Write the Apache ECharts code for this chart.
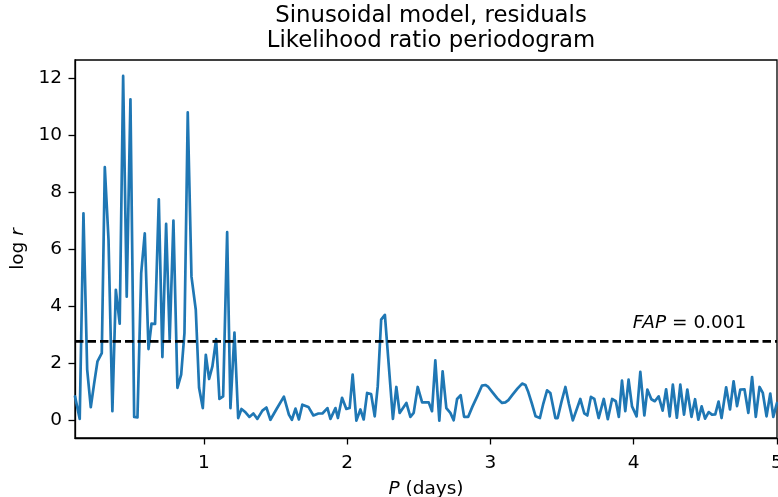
<!DOCTYPE html>
<html>
<head>
<meta charset="utf-8">
<script src="https://cdn.jsdelivr.net/npm/echarts@6/dist/echarts.min.js"></script>
<style>html,body{margin:0;padding:0;background:#fff}#c{width:778px;height:497px}</style>
</head>
<body>
<div id="c"></div>
<script>
const period = [
  0.100,0.133,0.159,0.185,0.210,0.233,0.257,0.287,0.308,0.334,0.361,0.385,0.412,0.436,0.461,
  0.487,0.513,0.536,0.562,0.587,0.613,0.634,0.659,0.685,0.710,0.736,0.761,0.787,0.815,0.841,
  0.864,0.887,0.913,0.943,0.966,0.992,
  1.013,1.036,1.059,1.085,1.108,1.134,1.162,1.185,1.213,1.239,1.262,1.290,1.317,1.345,1.373,
  1.408,1.436,1.464,1.506,1.558,1.593,1.614,1.639,1.663,1.687,1.729,1.764,1.799,1.827,1.862,
  1.883,1.918,1.935,1.964,1.994,2.017,2.038,2.064,2.092,2.115,2.139,2.167,2.192,2.213,2.237,
  2.263,2.319,2.343,2.366,2.413,2.441,2.464,2.492,2.523,2.569,2.592,2.615,2.643,2.666,2.692,
  2.720,2.743,2.767,2.792,2.816,2.844,
  2.874,2.909,2.941,2.964,2.985,3.013,3.048,3.081,3.104,3.125,3.153,3.188,3.221,3.244,3.264,
  3.289,3.315,3.345,3.369,3.395,3.418,3.453,3.469,3.495,3.523,3.547,3.575,3.627,3.655,3.676,
  3.701,3.725,3.755,3.791,3.819,3.849,3.875,3.896,3.918,3.941,3.964,3.988,4.020,4.046,4.074,
  4.095,4.123,4.147,4.174,4.202,4.226,4.251,4.273,4.301,4.325,4.351,4.374,4.403,4.428,4.451,
  4.474,4.498,4.523,4.546,4.569,4.592,4.613,4.645,4.672,4.697,4.721,4.744,4.773,4.800,4.826,
  4.852,4.878,4.901,4.927,4.953,4.974,5.000
];
const logR = [
  0.85,0.06,7.27,1.79,0.47,1.28,2.08,2.37,8.89,6.34,0.33,4.59,3.40,12.09,4.35,
  11.27,0.13,0.11,5.17,6.57,2.51,3.40,3.39,7.76,2.23,6.90,2.84,7.02,1.15,1.61,
  3.07,10.81,5.05,3.89,1.15,0.44,
  2.31,1.46,1.90,2.86,0.76,0.85,6.61,0.44,3.09,0.09,0.41,0.29,0.13,0.25,0.06,
  0.35,0.46,0.03,0.40,0.84,0.21,0.03,0.42,0.04,0.56,0.48,0.18,0.25,0.25,0.44,
  0.06,0.44,0.09,0.80,0.41,0.44,1.61,0.00,0.39,0.04,0.97,0.93,0.15,1.20,3.54,
  3.71,0.06,1.18,0.27,0.62,0.13,0.27,1.18,0.64,0.64,0.33,2.11,0.00,1.73,0.44,
  0.27,0.01,0.76,0.89,0.13,0.13,
  0.49,0.87,1.23,1.25,1.18,1.00,0.78,0.62,0.64,0.72,0.90,1.12,1.30,1.25,1.00,
  0.60,0.15,0.09,0.60,1.06,0.97,0.09,0.09,0.65,1.18,0.60,0.01,0.76,0.25,0.18,
  0.83,0.76,0.09,0.76,0.05,0.76,0.68,0.13,1.40,0.33,1.44,0.50,0.15,1.71,0.18,
  1.09,0.75,0.68,0.85,0.35,1.10,0.15,1.26,0.10,1.26,0.21,1.09,0.13,0.75,0.03,
  0.50,0.07,0.30,0.21,0.22,0.67,0.09,1.17,0.39,1.38,0.51,1.09,1.10,0.27,1.53,
  0.13,1.18,0.97,0.15,0.95,0.13,0.62
];
const xTicks = [1, 2, 3, 4, 5];
const yTicks = [0, 2, 4, 6, 8, 10, 12];
const fapLevel = 2.78;
const fapLabelPos = [4.786, 3.43];
const xRange = [0.1, 5.0];
const yRange = [-0.61, 12.65];

const FONT = 'DejaVu Sans';
const FS = 18.5;

const chart = echarts.init(document.getElementById('c'), null, {renderer: 'canvas'});
chart.setOption({
  animation: false,
  backgroundColor: '#fff',
  title: {
    text: 'Sinusoidal model, residuals\nLikelihood ratio periodogram',
    left: 426, top: -1, textAlign: 'center',
    textStyle: {fontFamily: FONT, fontSize: 22.8, fontWeight: 'normal', color: '#000', lineHeight: 25}
  },
  grid: {left: 75, right: 1, top: 60, bottom: 59, show: true, borderColor: '#000', borderWidth: 1.3,
    backgroundColor: 'transparent', containLabel: false, outerBoundsMode: 'none'},
  xAxis: {
    type: 'value', min: xRange[0], max: xRange[1],
    name: '{i|P} (days)', nameLocation: 'middle', nameGap: 42,
    nameTextStyle: {fontFamily: FONT, fontSize: FS, color: '#000',
      rich: {i: {fontFamily: FONT, fontSize: FS, fontStyle: 'italic', color: '#000'}}},
    axisLine: {show: true, onZero: false, lineStyle: {color: '#000', width: 1.3}},
    axisTick: {show: true, length: 6.5, lineStyle: {color: '#000', width: 1.3}, customValues: xTicks},
    axisLabel: {show: true, margin: 16, fontFamily: FONT, fontSize: FS, color: '#000', customValues: xTicks, formatter: v => String(v)},
    splitLine: {show: false}
  },
  yAxis: {
    type: 'value', min: yRange[0], max: yRange[1],
    name: 'log {i|r}', nameLocation: 'middle', nameGap: 47, nameRotate: 90,
    nameTextStyle: {fontFamily: FONT, fontSize: FS, color: '#000',
      rich: {i: {fontFamily: FONT, fontSize: FS, fontStyle: 'italic', color: '#000'}}},
    axisLine: {show: true, onZero: false, lineStyle: {color: '#000', width: 1.3}},
    axisTick: {show: true, length: 6.5, lineStyle: {color: '#000', width: 1.3}, customValues: yTicks},
    axisLabel: {show: true, margin: 13, fontFamily: FONT, fontSize: FS, color: '#000', customValues: yTicks, formatter: v => String(v)},
    splitLine: {show: false}
  },
  series: [
    {
      type: 'line', name: 'logr',
      data: period.map((p, i) => [p, logR[i]]),
      showSymbol: false, symbol: 'none',
      lineStyle: {color: '#1f77b4', width: 2.7, join: 'round', cap: 'round'},
      clip: true, z: 2
    },
    {
      type: 'line', name: 'fap',
      data: [[xRange[0], fapLevel], [xRange[1], fapLevel]],
      showSymbol: false, symbol: 'none',
      lineStyle: {color: '#000', width: 2.8, type: [8.5, 4]},
      z: 3
    },
    {
      type: 'scatter', name: 'faplabel',
      data: [fapLabelPos],
      symbolSize: 0,
      itemStyle: {opacity: 1},
      label: {
        show: true, position: 'left', distance: 0,
        formatter: '{i|FAP} = 0.001',
        fontFamily: FONT, fontSize: FS, color: '#000', opacity: 1,
        rich: {i: {fontFamily: FONT, fontSize: FS, fontStyle: 'italic', color: '#000'}}
      },
      z: 4
    }
  ]
});
</script>
</body>
</html>
